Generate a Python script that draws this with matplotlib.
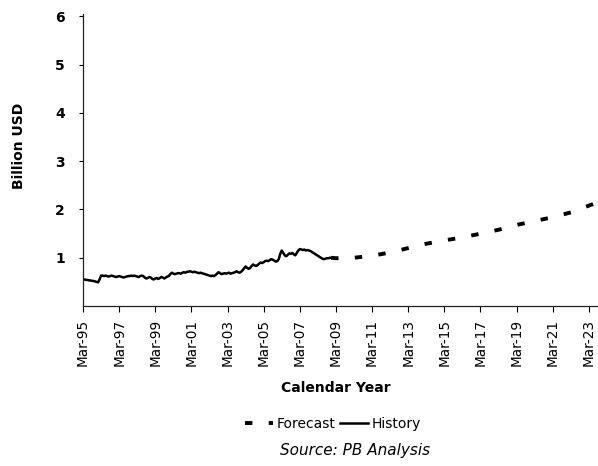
import numpy as np
import matplotlib
matplotlib.use("Agg")
import matplotlib.pyplot as plt

# Monthly history, starting Mar-95 (Billion USD)
history = [
    0.55, 0.55, 0.54, 0.54, 0.53, 0.53, 0.52, 0.52, 0.51, 0.50,
    0.49, 0.55, 0.63, 0.63, 0.62, 0.63, 0.62, 0.61, 0.62, 0.63, 0.62, 0.61,
    0.60, 0.61, 0.62, 0.61, 0.60, 0.59, 0.60, 0.61, 0.62,
    0.62, 0.63, 0.62, 0.63, 0.62, 0.61, 0.60, 0.62, 0.63, 0.62,
    0.59, 0.57, 0.58, 0.60, 0.59, 0.56, 0.55, 0.57, 0.58, 0.56,
    0.58, 0.60, 0.59, 0.57, 0.59, 0.61, 0.62, 0.66, 0.69, 0.67,
    0.66, 0.67, 0.68, 0.68, 0.67, 0.69, 0.70, 0.69, 0.71, 0.71,
    0.72, 0.71, 0.70, 0.71, 0.70, 0.69, 0.68, 0.69, 0.68, 0.67,
    0.66, 0.65, 0.64, 0.63, 0.62, 0.63, 0.62, 0.64, 0.67, 0.70,
    0.68, 0.66, 0.67, 0.68, 0.67, 0.68, 0.69, 0.67, 0.68, 0.69,
    0.70, 0.72, 0.70, 0.69, 0.71, 0.74, 0.78, 0.82, 0.79, 0.77,
    0.79, 0.83, 0.86, 0.84, 0.83, 0.85, 0.88, 0.90, 0.89, 0.91,
    0.93, 0.94, 0.93, 0.95, 0.97, 0.96, 0.94, 0.92, 0.93, 0.97,
    1.08, 1.15, 1.10, 1.05, 1.03, 1.06, 1.09, 1.08, 1.10, 1.07,
    1.05, 1.10, 1.15, 1.18, 1.17, 1.16, 1.17, 1.15, 1.16, 1.15,
    1.14, 1.12, 1.10, 1.08, 1.06, 1.04, 1.02, 1.00, 0.98, 0.97,
    0.98, 0.99, 0.99, 1.00, 1.00,
]

# Forecast, yearly from Mar-09 to Mar-23, plus the last point shown
forecast_years = [2008.9, 2009.17, 2010.17, 2011.17, 2012.17, 2013.17, 2014.17,
                  2015.17, 2016.17, 2017.17, 2018.17, 2019.17, 2020.17,
                  2021.17, 2022.17, 2023.17, 2023.67]
forecast = [1.00, 0.99, 1.00, 1.04, 1.11, 1.20, 1.29, 1.36, 1.42, 1.50,
            1.58, 1.68, 1.76, 1.84, 1.94, 2.08, 2.15]

tick_years = list(range(1995, 2024, 2))
tick_labels = [f"Mar-{y % 100:02d}" for y in tick_years]

start = 1995 + 2 / 12
hist_x = start + np.arange(len(history)) / 12.0
tick_pos = [y + 2 / 12 for y in tick_years]

fig = plt.figure(figsize=(5.98, 4.66), dpi=100)
ax = fig.add_axes([83 / 598, 1 - 306 / 466, 515 / 598, (306 - 14) / 466])

ax.plot(forecast_years, forecast, color="black", lw=2.8,
        linestyle=(0, (1.9, 4.2)), solid_capstyle="butt", label="Forecast")
ax.plot(hist_x, history, color="black", lw=1.8, label="History")

ax.set_xlim(start, 2023.67)
ax.set_ylim(0, 6.05)
ax.set_xticks(tick_pos)
ax.set_xticklabels(tick_labels, rotation=90, fontsize=9.8)
ax.set_yticks([1, 2, 3, 4, 5, 6])
ax.set_yticklabels(["1", "2", "3", "4", "5", "6"], fontsize=10, fontweight="bold")

for s in ["top", "right"]:
    ax.spines[s].set_visible(False)
for s in ["left", "bottom"]:
    ax.spines[s].set_linewidth(0.9)
    ax.spines[s].set_color("#222222")
ax.tick_params(axis="y", direction="out", length=3, pad=10, width=0.8)
ax.tick_params(axis="x", direction="out", length=4, pad=5, width=0.8)

ax.set_ylabel("Billion USD", fontsize=10, fontweight="bold")
ax.yaxis.set_label_coords(-57 / 515, 0.55)

fig.text(336 / 598, 1 - 388 / 466, "Calendar Year", ha="center", va="center",
         fontsize=10, fontweight="bold")

handles, labels = ax.get_legend_handles_labels()
fig.legend(handles, labels, loc="center", bbox_to_anchor=(333 / 598, 1 - 424 / 466),
           ncol=2, frameon=False, fontsize=10, handlelength=2.0,
           handletextpad=0.3, columnspacing=0.3)

fig.text(355 / 598, 1 - 451 / 466, "Source: PB Analysis", ha="center", va="center",
         fontsize=11, style="italic")

fig.savefig("out.png", dpi=100, facecolor="white")
